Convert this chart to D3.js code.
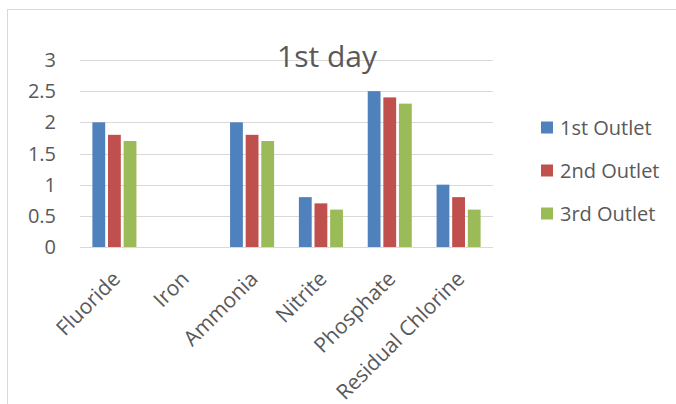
<!DOCTYPE html>
<html>
<head>
<meta charset="utf-8">
<script src="https://cdn.jsdelivr.net/npm/d3@7"></script>
<style>
  body { margin: 0; background: #fff; }
  svg { display: block; font-family: 'Open Sans', sans-serif; }
</style>
</head>
<body>
<svg id="chart" width="676" height="404"></svg>
<script>
'use strict';

var categories = ['Fluoride', 'Iron', 'Ammonia', 'Nitrite', 'Phosphate', 'Residual Chlorine'];
var seriesNames = ['1st Outlet', '2nd Outlet', '3rd Outlet'];
var outlet1 = [2, 0, 2, 0.8, 2.5, 1.0];
var outlet2 = [1.8, 0, 1.8, 0.7, 2.4, 0.8];
var outlet3 = [1.7, 0, 1.7, 0.6, 2.3, 0.6];
var yTicks = [0, 0.5, 1, 1.5, 2, 2.5, 3];
var colors = ['#4F81BD', '#C0504D', '#9BBB59'];

var values = [outlet1, outlet2, outlet3];
var svg = d3.select('#chart');

// chart frame
svg.append('rect')
    .attr('x', 7.5).attr('y', 9.5)
    .attr('width', 700).attr('height', 420)
    .style('fill', 'none')
    .style('stroke', '#D9D9D9');

var x0 = d3.scaleBand().domain(categories).range([80, 493])
    .paddingInner(0.36).paddingOuter(0.18);
var x1 = d3.scaleBand().domain(seriesNames).range([0, x0.bandwidth()])
    .paddingInner(0.18);
var y = d3.scaleLinear().domain([0, 3]).range([247, 60]);

// gridlines
svg.append('g').selectAll('line')
    .data(yTicks)
    .enter().append('line')
    .attr('x1', 80).attr('x2', 493)
    .attr('y1', function(d) { return Math.round(y(d)) + 0.5; })
    .attr('y2', function(d) { return Math.round(y(d)) + 0.5; })
    .style('stroke', '#D9D9D9');

// y labels
svg.append('g').selectAll('text')
    .data(yTicks)
    .enter().append('text')
    .attr('x', 56)
    .attr('y', function(d) { return y(d); })
    .attr('dy', '0.35em')
    .style('text-anchor', 'end')
    .style('font-size', '20px')
    .style('fill', '#595959')
    .text(function(d) { return d; });

// bars
seriesNames.forEach(function(s, si) {
  svg.append('g').selectAll('rect')
      .data(values[si])
      .enter().append('rect')
      .attr('x', function(d, i) { return x0(categories[i]) + x1(s); })
      .attr('width', x1.bandwidth())
      .attr('y', function(d) { return y(d); })
      .attr('height', function(d) { return y(0) - y(d); })
      .style('fill', colors[si]);
});

// x labels
svg.append('g').selectAll('text')
    .data(categories)
    .enter().append('text')
    .attr('transform', function(d) {
      return 'translate(' + (x0(d) + x0.bandwidth() / 2 + 2) + ',275) rotate(-45)';
    })
    .attr('dy', '0.35em')
    .style('text-anchor', 'end')
    .style('font-size', '21px')
    .style('fill', '#595959')
    .text(function(d) { return d; });

// title
svg.append('text')
    .attr('x', 327).attr('y', 67)
    .style('text-anchor', 'middle')
    .style('font-size', '30px')
    .style('fill', '#595959')
    .text('1st day');

// legend
var legend = svg.append('g').selectAll('g')
    .data(seriesNames)
    .enter().append('g')
    .attr('transform', function(d, i) { return 'translate(541,' + (127.5 + i * 43) + ')'; });

legend.append('rect')
    .attr('x', 0).attr('y', -6)
    .attr('width', 12).attr('height', 12)
    .style('fill', function(d, i) { return colors[i]; });

legend.append('text')
    .attr('x', 19).attr('dy', '0.35em')
    .style('font-size', '20px')
    .style('fill', '#595959')
    .text(function(d) { return d; });
</script>
</body>
</html>
